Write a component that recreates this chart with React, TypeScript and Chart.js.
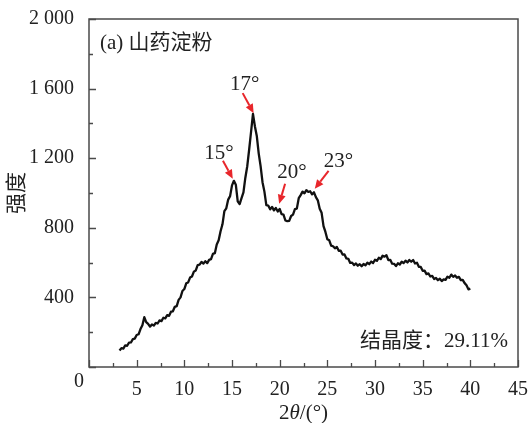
import { useEffect, useRef } from 'react';
import { Chart, registerables } from 'chart.js';

Chart.register(...registerables);

// 2θ (°) sampling positions
const angles = [
  3.2, 3.4, 3.6, 3.8, 4.0, 4.2, 4.4, 4.6, 4.8, 5.0,
  5.2, 5.4, 5.6, 5.8, 6.0, 6.2, 6.4, 6.6, 6.8, 7.0,
  7.2, 7.4, 7.6, 7.8, 8.0, 8.2, 8.4, 8.6, 8.8, 9.0,
  9.2, 9.4, 9.6, 9.8, 10.0, 10.2, 10.4, 10.6, 10.8, 11.0,
  11.2, 11.4, 11.6, 11.8, 12.0, 12.2, 12.4, 12.6, 12.8, 13.0,
  13.2, 13.4, 13.6, 13.8, 14.0, 14.2, 14.4, 14.6, 14.8, 15.0,
  15.2, 15.4, 15.6, 15.8, 16.0, 16.2, 16.4, 16.6, 16.8, 17.0,
  17.2, 17.4, 17.6, 17.8, 18.0, 18.2, 18.4, 18.6, 18.8, 19.0,
  19.2, 19.4, 19.6, 19.8, 20.0, 20.2, 20.4, 20.6, 20.8, 21.0,
  21.2, 21.4, 21.6, 21.8, 22.0, 22.2, 22.4, 22.6, 22.8, 23.0,
  23.2, 23.4, 23.6, 23.8, 24.0, 24.2, 24.4, 24.6, 24.8, 25.0,
  25.2, 25.4, 25.6, 25.8, 26.0, 26.2, 26.4, 26.6, 26.8, 27.0,
  27.2, 27.4, 27.6, 27.8, 28.0, 28.2, 28.4, 28.6, 28.8, 29.0,
  29.2, 29.4, 29.6, 29.8, 30.0, 30.2, 30.4, 30.6, 30.8, 31.0,
  31.2, 31.4, 31.6, 31.8, 32.0, 32.2, 32.4, 32.6, 32.8, 33.0,
  33.2, 33.4, 33.6, 33.8, 34.0, 34.2, 34.4, 34.6, 34.8, 35.0,
  35.2, 35.4, 35.6, 35.8, 36.0, 36.2, 36.4, 36.6, 36.8, 37.0,
  37.2, 37.4, 37.6, 37.8, 38.0, 38.2, 38.4, 38.6, 38.8, 39.0,
  39.2, 39.4, 39.6, 39.8, 40.0,
];

// Intensity
const intensity = [
  95, 108, 106, 124, 122, 140, 141, 160, 163, 184,
  188, 218, 240, 286, 258, 248, 232, 244, 238, 253,
  250, 268, 264, 283, 280, 298, 294, 318, 320, 346,
  350, 386, 400, 437, 448, 481, 486, 514, 520, 548,
  555, 586, 588, 604, 594, 608, 597, 616, 620, 650,
  654, 704, 728, 780, 820, 896, 912, 962, 982, 1044,
  1070, 1048, 952, 936, 970, 1004, 1088, 1154, 1250, 1352,
  1455, 1384, 1328, 1228, 1154, 1062, 1008, 930, 928, 906,
  920, 900, 914, 894, 908, 878, 876, 842, 838, 840,
  868, 876, 908, 910, 970, 988, 1008, 998, 1016, 1006,
  1010, 992, 1004, 976, 958, 910, 886, 810, 776, 734,
  728, 698, 694, 682, 690, 668, 668, 646, 647, 624,
  622, 598, 600, 586, 595, 582, 591, 579, 592, 584,
  599, 591, 606, 598, 616, 610, 628, 620, 640, 634,
  642, 614, 616, 594, 593, 580, 596, 589, 605, 597,
  611, 601, 615, 605, 615, 595, 599, 576, 575, 553,
  554, 534, 538, 520, 524, 506, 512, 499, 507, 494,
  504, 501, 519, 513, 531, 518, 526, 513, 518, 499,
  501, 482, 470, 446, 450,
];

const xMajorTicks = [0, 5, 10, 15, 20, 25, 30, 35, 40, 45];
const xMinorTicks = [2.5, 7.5, 12.5, 17.5, 22.5, 27.5, 32.5, 37.5, 42.5];
const yMajorTicks = [0, 400, 800, 1200, 1600, 2000];
const yMinorTicks = [200, 600, 1000, 1400, 1800];

const peakLabels = ['15°', '17°', '20°', '23°'];
const peakLabelX = [13.63, 16.33, 21.3, 26.17];
const peakLabelY = [1225, 1625, 1116, 1179];
const arrowFromX = [14.05, 16.12, 20.57, 25.13];
const arrowFromY = [1185, 1574, 1053, 1127];
const arrowToX = [15.08, 17.27, 19.95, 23.68];
const arrowToY = [1082, 1459, 938, 1024];

const panelTitle = '(a) 山药淀粉';
const crystallinityText = '结晶度：29.11%';
const yAxisTitle = '强度';

const SERIF = '"Liberation Serif", "Times New Roman", "Noto Sans CJK SC", serif';
const TEXT = '#222';
const AXIS = '#4a4a4a';
const RED = '#e8262b';

function fmtY(v: number): string {
  if (v === 0) return '';
  if (v >= 1000) {
    return `${Math.floor(v / 1000)} ${String(v % 1000).padStart(3, '0')}`;
  }
  return String(v);
}

function drawArrow(ctx: CanvasRenderingContext2D, x1: number, y1: number, x2: number, y2: number) {
  const ang = Math.atan2(y2 - y1, x2 - x1);
  const head = 9;
  const hw = 4;
  const bx = x2 - head * Math.cos(ang);
  const by = y2 - head * Math.sin(ang);
  ctx.beginPath();
  ctx.moveTo(x1, y1);
  ctx.lineTo(bx, by);
  ctx.stroke();
  ctx.beginPath();
  ctx.moveTo(x2, y2);
  ctx.lineTo(bx + hw * Math.sin(ang), by - hw * Math.cos(ang));
  ctx.lineTo(bx - hw * Math.sin(ang), by + hw * Math.cos(ang));
  ctx.closePath();
  ctx.fill();
}

const decorPlugin = {
  id: 'decor',
  afterDraw(chart: any) {
    const ctx: CanvasRenderingContext2D = chart.ctx;
    const { left, right, top, bottom } = chart.chartArea;
    const xs = chart.scales.x;
    const ys = chart.scales.y;
    ctx.save();

    // frame
    ctx.strokeStyle = AXIS;
    ctx.lineWidth = 1.5;
    ctx.strokeRect(left, top, right - left, bottom - top);

    // inward ticks
    ctx.lineWidth = 1.3;
    ctx.beginPath();
    for (const v of xMajorTicks) {
      const p = Math.round(xs.getPixelForValue(v)) + 0.5;
      ctx.moveTo(p, bottom);
      ctx.lineTo(p, bottom - 7);
    }
    for (const v of xMinorTicks) {
      const p = Math.round(xs.getPixelForValue(v)) + 0.5;
      ctx.moveTo(p, bottom);
      ctx.lineTo(p, bottom - 4);
    }
    for (const v of yMajorTicks) {
      const p = Math.round(ys.getPixelForValue(v)) + 0.5;
      ctx.moveTo(left, p);
      ctx.lineTo(left + 7, p);
    }
    for (const v of yMinorTicks) {
      const p = Math.round(ys.getPixelForValue(v)) + 0.5;
      ctx.moveTo(left, p);
      ctx.lineTo(left + 4, p);
    }
    ctx.stroke();

    // origin label
    ctx.fillStyle = TEXT;
    ctx.font = `20px ${SERIF}`;
    ctx.textAlign = 'center';
    ctx.textBaseline = 'middle';
    ctx.fillText('0', left - 10, bottom + 15);

    // panel title
    ctx.font = `21px ${SERIF}`;
    ctx.textAlign = 'left';
    ctx.fillText(panelTitle, left + 11, top + 24);

    // crystallinity
    ctx.textAlign = 'right';
    ctx.fillText(crystallinityText, right - 10, bottom - 26);

    // peak labels and arrows
    ctx.textAlign = 'center';
    ctx.strokeStyle = RED;
    ctx.fillStyle = RED;
    ctx.lineWidth = 2;
    for (let i = 0; i < peakLabels.length; i++) {
      drawArrow(
        ctx,
        xs.getPixelForValue(arrowFromX[i]),
        ys.getPixelForValue(arrowFromY[i]),
        xs.getPixelForValue(arrowToX[i]),
        ys.getPixelForValue(arrowToY[i])
      );
    }
    ctx.fillStyle = TEXT;
    for (let i = 0; i < peakLabels.length; i++) {
      ctx.fillText(peakLabels[i], xs.getPixelForValue(peakLabelX[i]), ys.getPixelForValue(peakLabelY[i]));
    }

    // x axis title: 2θ/(°)
    const cx = (left + right) / 2;
    const ty = 413;
    const parts: [string, string][] = [
      ['2', `21px ${SERIF}`],
      ['θ', `italic 21px ${SERIF}`],
      ['/(°)', `21px ${SERIF}`],
    ];
    let total = 0;
    for (const [t, f] of parts) {
      ctx.font = f;
      total += ctx.measureText(t).width;
    }
    let px = cx - total / 2;
    ctx.textAlign = 'left';
    for (const [t, f] of parts) {
      ctx.font = f;
      ctx.fillText(t, px, ty);
      px += ctx.measureText(t).width;
    }

    // y axis title
    ctx.translate(17, (top + bottom) / 2);
    ctx.rotate(-Math.PI / 2);
    ctx.textAlign = 'center';
    ctx.font = `21px ${SERIF}`;
    ctx.fillText(yAxisTitle, 0, 0);

    ctx.restore();
  },
};

export default function App() {
  const canvasRef = useRef<HTMLCanvasElement | null>(null);

  useEffect(() => {
    const canvas = canvasRef.current;
    if (!canvas) return;
    const points = angles.map((a, i) => ({ x: a, y: intensity[i] }));
    const chart = new Chart(canvas, {
      type: 'line',
      data: {
        datasets: [
          {
            data: points,
            borderColor: '#111',
            borderWidth: 2.3,
            borderJoinStyle: 'round',
            pointRadius: 0,
            tension: 0,
            fill: false,
          },
        ],
      },
      options: {
        responsive: false,
        animation: false,
        devicePixelRatio: 1,
        layout: { padding: { top: 17.5, right: 8, left: 0, bottom: 0 } },
        plugins: {
          legend: { display: false },
          tooltip: { enabled: false },
        },
        scales: {
          x: {
            type: 'linear',
            min: 0,
            max: 45,
            grid: { display: false },
            border: { display: false },
            ticks: {
              stepSize: 5,
              padding: 3,
              color: TEXT,
              font: { family: SERIF, size: 20 },
              maxRotation: 0,
              autoSkip: false,
              callback: (v: any) => (Number(v) === 0 ? '' : String(v)),
            },
            afterFit: (s: any) => {
              s.height = 56;
            },
          },
          y: {
            type: 'linear',
            min: 0,
            max: 2000,
            grid: { display: false },
            border: { display: false },
            ticks: {
              stepSize: 400,
              padding: 7,
              color: TEXT,
              font: { family: SERIF, size: 20 },
              callback: (v: any) => fmtY(Number(v)),
            },
            afterFit: (s: any) => {
              s.width = 89;
            },
          },
        },
      },
      plugins: [decorPlugin],
    });
    return () => chart.destroy();
  }, []);

  return (
    <div style={{ position: 'fixed', left: 0, top: 0, width: 531, height: 423, background: '#fff' }}>
      <canvas ref={canvasRef} width={531} height={423} style={{ width: 531, height: 423, display: 'block' }} />
    </div>
  );
}
